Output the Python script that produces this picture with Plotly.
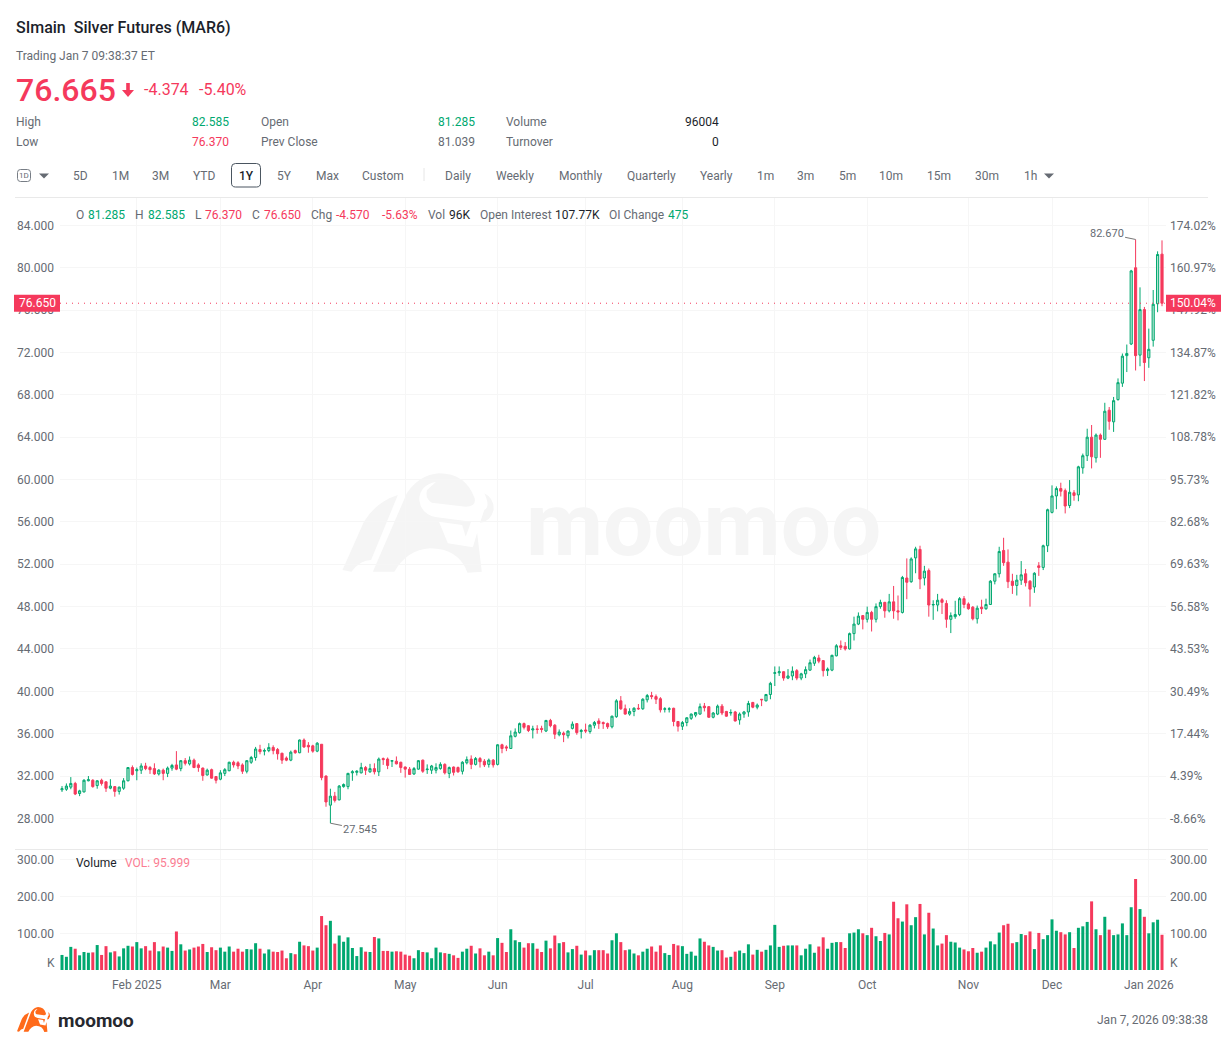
import plotly.graph_objects as go

W, H = 1225, 1046

# Daily candles
open_px = [
    30.7, 30.75, 30.95, 31.3, 30.35, 30.5, 31.55, 31.6, 31.1, 31.6,
    31.45, 30.85, 31.0, 30.55, 30.85, 31.55, 32.8, 32.5, 32.55, 32.95,
    32.8, 32.7, 32.2, 32.55, 32.25, 32.75, 33.05, 32.7, 33.45, 33.15,
    33.5, 33.05, 32.75, 32.1, 32.6, 31.95, 31.7, 32.25, 32.5, 33.3,
    33.25, 33.05, 32.45, 33.3, 33.75, 34.5, 34.35, 34.4, 34.7, 34.5,
    34.15, 33.7, 33.5, 34.4, 34.2, 35.4, 34.9, 34.85, 34.35, 35.0,
    32.0, 29.25, 30.1, 29.75, 31.0, 31.0, 32.3, 32.35, 32.3, 32.8,
    32.4, 32.7, 32.4, 33.65, 33.6, 33.4, 33.4, 33.3, 32.85, 32.65,
    32.2, 32.65, 33.5, 32.6, 32.55, 32.55, 32.7, 33.1, 32.25, 32.85,
    32.8, 32.45, 33.25, 33.6, 33.1, 33.65, 33.4, 33.1, 33.5, 33.1,
    34.95, 34.75, 34.6, 35.75, 36.1, 36.95, 36.75, 36.35, 36.45, 36.5,
    36.25, 37.25, 36.8, 35.9, 36.05, 35.8, 36.5, 36.95, 36.2, 36.35,
    36.2, 36.8, 37.2, 37.05, 36.95, 36.65, 37.6, 39.1, 38.35, 37.85,
    38.1, 38.4, 38.35, 39.2, 39.6, 39.5, 39.3, 38.3, 38.3, 38.4,
    37.15, 36.7, 37.05, 37.45, 37.75, 37.85, 38.6, 38.55, 37.55, 37.85,
    38.6, 38.1, 37.95, 38.05, 37.3, 37.85, 38.05, 38.95, 38.5, 39.25,
    39.1, 39.7, 41.7, 41.75, 41.85, 41.25, 41.45, 41.95, 41.25, 41.65,
    42.0, 42.65, 43.15, 42.9, 41.95, 42.0, 43.35, 44.3, 44.25, 44.0,
    45.45, 46.35, 47.15, 46.8, 47.45, 46.8, 48.0, 48.4, 47.6, 48.45,
    47.6, 47.45, 50.7, 50.35, 52.6, 53.4, 50.7, 51.4, 48.15, 48.15,
    48.65, 48.3, 46.8, 47.05, 47.25, 48.75, 48.25, 47.95, 46.85, 47.95,
    47.8, 48.2, 50.4, 51.1, 53.3, 52.2, 50.4, 50.0, 50.5, 51.1,
    50.4, 49.85, 51.85, 51.7, 53.75, 56.9, 58.45, 59.15, 58.95, 57.55,
    58.75, 58.55, 61.1, 62.25, 64.0, 62.05, 64.2, 63.8, 66.55, 65.45,
    67.55, 69.1, 71.7, 72.8, 80.0, 71.75, 76.05, 71.5, 73.15, 76.6, 81.285,
]
close_px = [
    30.8, 31.05, 31.3, 30.3, 30.6, 31.6, 31.65, 31.0, 31.55, 31.3,
    30.85, 31.05, 30.55, 30.95, 31.55, 32.8, 32.15, 32.6, 32.95, 32.7,
    32.6, 32.2, 32.55, 32.25, 32.75, 33.0, 32.65, 33.45, 33.2, 33.5,
    32.8, 32.8, 32.05, 32.55, 31.8, 31.6, 32.3, 32.6, 33.3, 33.05,
    32.95, 32.45, 33.45, 33.75, 34.55, 34.3, 34.4, 34.7, 34.4, 34.1,
    33.5, 33.5, 34.25, 34.2, 35.4, 34.75, 34.75, 34.35, 35.1, 31.85,
    29.55, 30.1, 29.7, 31.05, 31.2, 32.25, 32.4, 32.45, 32.8, 32.55,
    32.7, 32.4, 33.6, 33.55, 33.0, 33.45, 33.15, 32.8, 32.65, 32.15,
    32.7, 33.45, 32.45, 32.65, 32.95, 32.8, 33.1, 32.3, 32.8, 32.35,
    32.4, 33.3, 33.55, 33.1, 33.65, 33.35, 33.05, 33.5, 33.05, 34.95,
    34.6, 34.65, 35.8, 36.15, 36.95, 36.6, 36.3, 36.45, 36.4, 36.4,
    37.25, 36.75, 35.95, 36.15, 35.9, 36.25, 36.9, 36.1, 36.3, 36.25,
    36.8, 37.05, 36.95, 36.95, 36.65, 37.65, 39.1, 38.35, 37.85, 38.1,
    38.4, 38.35, 39.25, 39.6, 39.5, 39.25, 38.25, 38.35, 38.35, 37.15,
    36.7, 37.05, 37.5, 37.85, 38.0, 38.55, 38.45, 37.55, 37.95, 38.6,
    37.95, 37.65, 38.0, 37.2, 37.85, 38.05, 38.85, 38.5, 38.7, 39.2,
    39.7, 40.75, 41.75, 41.85, 41.25, 41.45, 41.9, 41.25, 41.65, 42.05,
    42.7, 43.2, 42.85, 41.95, 42.1, 43.4, 44.3, 44.15, 44.0, 45.45,
    46.35, 47.1, 46.8, 47.45, 46.8, 48.0, 48.4, 47.6, 48.45, 47.6,
    47.5, 50.75, 50.3, 52.5, 53.45, 50.6, 51.35, 48.15, 48.2, 48.6,
    48.4, 46.8, 47.15, 47.25, 48.75, 48.2, 47.8, 46.85, 47.85, 47.8,
    48.2, 50.4, 51.1, 53.2, 52.15, 50.35, 50.0, 50.5, 51.0, 50.25,
    49.65, 51.15, 51.7, 53.75, 57.15, 58.45, 59.15, 58.9, 57.5, 58.8,
    58.5, 61.2, 62.25, 64.0, 62.15, 64.2, 63.8, 66.45, 65.5, 67.45,
    69.15, 71.65, 71.9, 79.7, 71.7, 76.05, 71.05, 72.3, 76.55, 81.25, 76.65,
]
high_px = [
    31.05, 31.3, 31.9, 31.45, 30.7, 31.7, 32.0, 31.7, 31.6, 31.75,
    31.5, 31.7, 31.05, 31.0, 31.8, 32.85, 33.0, 32.8, 33.2, 33.25,
    32.95, 33.2, 32.65, 32.7, 32.9, 33.15, 34.35, 33.5, 33.7, 33.85,
    33.65, 33.2, 32.8, 32.7, 32.7, 32.0, 32.55, 32.75, 33.35, 33.45,
    33.4, 33.2, 33.5, 33.9, 34.75, 34.95, 34.6, 35.1, 34.9, 34.65,
    34.2, 33.85, 34.4, 34.5, 35.45, 35.55, 35.2, 34.95, 35.2, 35.0,
    32.05, 30.8, 30.5, 31.15, 31.3, 32.3, 32.55, 32.55, 33.25, 32.95,
    33.15, 33.2, 33.75, 33.75, 33.75, 33.5, 33.85, 33.35, 32.9, 32.85,
    32.85, 33.5, 33.55, 33.1, 33.05, 33.2, 33.3, 33.2, 32.9, 32.9,
    32.9, 33.4, 33.85, 33.95, 33.8, 33.8, 33.6, 33.65, 33.6, 35.0,
    35.05, 34.9, 36.3, 36.5, 37.05, 37.05, 36.8, 36.75, 36.8, 36.75,
    37.3, 37.4, 36.9, 36.4, 36.2, 36.3, 37.15, 37.0, 36.45, 36.95,
    36.9, 37.2, 37.45, 37.15, 37.05, 37.7, 39.25, 39.55, 38.75, 38.4,
    38.5, 38.8, 39.35, 39.75, 39.95, 39.7, 39.45, 38.5, 38.5, 38.45,
    37.2, 37.2, 37.55, 37.9, 38.05, 38.85, 38.9, 38.6, 38.05, 38.75,
    38.8, 38.15, 38.3, 38.15, 38.0, 38.15, 39.1, 39.0, 38.85, 39.25,
    39.75, 40.9, 42.35, 42.35, 41.9, 42.1, 42.35, 42.1, 41.75, 42.35,
    43.0, 43.35, 43.45, 42.95, 42.25, 43.45, 44.45, 44.8, 44.65, 45.55,
    47.05, 47.45, 47.2, 48.0, 47.6, 48.3, 48.65, 48.45, 49.2, 49.95,
    49.05, 50.9, 52.55, 52.65, 53.65, 53.75, 51.85, 51.6, 48.6, 49.2,
    48.8, 48.6, 47.45, 48.55, 48.9, 49.0, 48.4, 48.05, 48.1, 48.65,
    48.75, 50.5, 51.15, 53.65, 54.5, 53.4, 51.1, 51.0, 52.3, 51.55,
    50.5, 51.25, 52.2, 53.85, 57.25, 59.45, 59.35, 59.7, 59.15, 59.95,
    59.0, 61.3, 62.45, 64.8, 65.15, 64.35, 64.35, 67.25, 66.85, 67.8,
    69.55, 71.9, 72.75, 79.8, 82.67, 78.15, 76.3, 74.25, 77.9, 81.55, 82.585,
]
low_px = [
    30.5, 30.6, 30.75, 30.2, 30.1, 30.45, 31.5, 30.9, 30.8, 31.1,
    30.5, 30.75, 30.05, 30.25, 30.7, 31.5, 32.05, 31.6, 32.2, 32.55,
    32.2, 32.1, 32.05, 31.6, 31.9, 32.5, 32.55, 32.45, 33.0, 33.0,
    32.75, 32.4, 31.55, 32.05, 31.75, 31.3, 31.6, 32.0, 32.45, 32.8,
    32.65, 32.2, 32.25, 33.15, 33.45, 34.05, 33.95, 34.25, 34.05, 33.55,
    33.15, 33.4, 33.4, 34.1, 34.15, 34.65, 34.2, 34.2, 34.25, 31.6,
    29.1, 27.545, 29.5, 29.7, 30.9, 30.75, 31.55, 32.05, 32.25, 32.1,
    32.3, 32.15, 32.0, 33.05, 32.65, 32.85, 33.1, 32.3, 31.85, 32.1,
    32.1, 32.6, 32.3, 32.2, 32.2, 32.25, 32.6, 32.15, 31.8, 32.05,
    32.3, 32.15, 33.1, 32.65, 33.0, 32.8, 32.85, 32.8, 32.8, 33.0,
    34.15, 34.35, 34.55, 35.65, 36.0, 36.4, 36.15, 35.55, 36.0, 36.1,
    36.15, 36.6, 35.5, 35.75, 35.2, 35.55, 36.4, 35.9, 35.55, 36.05,
    36.0, 36.5, 36.45, 36.45, 36.45, 36.5, 37.5, 38.25, 37.8, 37.7,
    37.65, 38.25, 38.25, 38.95, 39.25, 38.8, 38.0, 38.0, 38.0, 36.7,
    36.2, 36.35, 36.7, 37.3, 37.55, 37.8, 38.1, 37.5, 37.45, 37.75,
    37.75, 37.6, 37.7, 37.15, 36.85, 37.5, 37.6, 38.4, 38.3, 38.6,
    39.05, 39.25, 40.5, 41.45, 41.0, 41.15, 41.05, 41.05, 41.05, 41.25,
    41.95, 42.4, 42.65, 41.4, 41.45, 41.9, 43.3, 43.9, 43.85, 43.95,
    44.8, 46.25, 45.85, 46.5, 45.65, 46.5, 47.8, 46.95, 47.45, 46.85,
    46.7, 47.35, 48.7, 50.25, 51.15, 49.65, 50.0, 47.05, 46.75, 47.55,
    47.3, 46.0, 45.5, 46.85, 47.1, 47.85, 47.7, 46.7, 46.4, 47.3,
    47.7, 48.15, 50.1, 50.75, 51.85, 49.75, 49.2, 49.05, 50.05, 49.9,
    48.0, 49.3, 50.9, 51.45, 53.15, 56.8, 57.2, 58.4, 56.8, 57.3,
    58.0, 57.95, 60.55, 61.75, 61.05, 61.6, 62.05, 63.75, 64.7, 64.5,
    67.45, 68.75, 70.15, 72.7, 70.3, 70.7, 69.3, 70.55, 72.55, 75.8, 76.37,
]
volume = [
    41, 36, 63, 58, 40, 49, 47, 48, 68, 41,
    65, 48, 51, 37, 59, 66, 64, 76, 59, 65,
    53, 76, 51, 64, 61, 52, 105, 70, 53, 56,
    61, 64, 71, 49, 62, 54, 61, 50, 64, 50,
    58, 50, 57, 56, 73, 58, 45, 56, 50, 49,
    53, 32, 46, 43, 77, 67, 65, 53, 61, 147,
    122, 134, 72, 94, 77, 89, 60, 38, 62, 50,
    49, 90, 86, 52, 52, 50, 51, 50, 42, 39,
    32, 54, 49, 48, 32, 61, 48, 46, 44, 40,
    33, 50, 58, 66, 45, 59, 40, 50, 40, 87,
    74, 49, 111, 81, 76, 61, 73, 73, 58, 49,
    80, 59, 94, 73, 76, 48, 57, 66, 42, 53,
    40, 54, 54, 54, 45, 81, 100, 76, 54, 56,
    45, 40, 50, 58, 64, 50, 67, 46, 41, 71,
    67, 65, 44, 50, 39, 86, 77, 67, 63, 53,
    54, 34, 36, 50, 53, 46, 70, 42, 55, 50,
    55, 67, 123, 63, 66, 67, 67, 67, 40, 58,
    70, 47, 64, 89, 58, 74, 76, 76, 60, 100,
    102, 111, 100, 95, 115, 92, 79, 101, 97, 186,
    141, 132, 179, 122, 144, 180, 97, 156, 113, 67,
    72, 95, 77, 75, 61, 56, 51, 60, 47, 50,
    61, 78, 70, 102, 122, 126, 73, 76, 98, 95,
    105, 57, 101, 84, 95, 138, 107, 103, 97, 103,
    60, 115, 119, 131, 187, 111, 95, 145, 110, 95,
    97, 127, 95, 171, 248, 166, 145, 100, 130, 137, 96,
]

month_index = [17, 36, 57, 78, 99, 119, 141, 162, 183, 206, 225, 247]
month_labels = ["Feb 2025", "Mar", "Apr", "May", "Jun", "Jul", "Aug", "Sep", "Oct", "Nov", "Dec", "Jan 2026"]

price_ticks = [84, 80, 76, 72, 68, 64, 60, 56, 52, 48, 44, 40, 36, 32, 28]
price_labels = ["84.000", "80.000", "76.000", "72.000", "68.000", "64.000", "60.000", "56.000",
                "52.000", "48.000", "44.000", "40.000", "36.000", "32.000", "28.000"]
pct_labels = ["174.02%", "160.97%", "147.92%", "134.87%", "121.82%", "108.78%", "95.73%", "82.68%",
              "69.63%", "56.58%", "43.53%", "30.49%", "17.44%", "4.39%", "-8.66%"]
volume_ticks = [100, 200, 300]
volume_labels = ["100.00", "200.00", "300.00"]

last_close = 76.65
last_pct = "150.04%"

GREEN = "#00a870"
GREEN_FILL = "#b5e5d2"
RED = "#f5395c"
PINK = "#fb7d92"
DARK = "#1c1f2b"
GREY = "#666b73"
GRID = "#f6f6f6"
FONT = "Roboto"

# where the panes sit on the page, in pixels
LEFT, RIGHT = 60, 1166
MAIN_TOP, MAIN_BOTTOM = 198, 849
VOL_TOP, VOL_BOTTOM = 850, 970
Y84, PX_PER_UNIT = 225.4, 10.589


def fx(x):
    return x / W


def fy(y):
    return 1 - y / H


def price_at(y):
    return 84 - (y - Y84) / PX_PER_UNIT


bar_index = list(range(len(close_px)))
vol_colors = [GREEN if c >= o else RED for o, c in zip(open_px, close_px)]

fig = go.Figure()

fig.add_trace(go.Candlestick(
    x=bar_index, open=open_px, high=high_px, low=low_px, close=close_px,
    increasing=dict(line=dict(color=GREEN, width=1), fillcolor=GREEN_FILL),
    decreasing=dict(line=dict(color=RED, width=1), fillcolor=RED),
    whiskerwidth=0, xaxis="x", yaxis="y", showlegend=False,
))
# invisible copy so the right hand percent axis gets drawn
fig.add_trace(go.Scatter(x=bar_index, y=close_px, mode="lines", line=dict(width=0), opacity=0,
                         xaxis="x", yaxis="y2", hoverinfo="skip", showlegend=False))
fig.add_trace(go.Bar(x=bar_index, y=volume, marker=dict(color=vol_colors, line=dict(width=0)), width=0.68,
                     xaxis="x2", yaxis="y3", showlegend=False))
fig.add_trace(go.Scatter(x=bar_index, y=volume, mode="lines", line=dict(width=0), opacity=0,
                         xaxis="x2", yaxis="y4", hoverinfo="skip", showlegend=False))

annotations = []
shapes = []


def label(x, y, text, size=12, color=GREY, anchor="left", weight=None, family=FONT):
    font = dict(family=family, size=size, color=color)
    if weight:
        font["weight"] = weight
    annotations.append(dict(xref="paper", yref="paper", x=fx(x), y=fy(y), text=text, showarrow=False,
                            xanchor=anchor, yanchor="middle", font=font, borderpad=0, borderwidth=0))


def pixel_shape(path, fill=None, line=None, layer="above", width=1):
    shapes.append(dict(type="path", xref="paper", yref="paper", path=path, fillcolor=fill,
                       line=dict(color=line, width=width if line else 0), layer=layer))


def pixel_path(points):
    # points: list of (command, x, y, ...) in page pixels
    parts = []
    for p in points:
        coords = []
        for i, v in enumerate(p[1:]):
            coords.append(f"{fx(v):.5f}" if i % 2 == 0 else f"{fy(v):.5f}")
        parts.append(p[0] + " " + " ".join(coords))
    return " ".join(parts) + " Z"


def round_box(x0, y0, x1, y1, r):
    return pixel_path([
        ("M", x0 + r, y0), ("L", x1 - r, y0), ("Q", x1, y0, x1, y0 + r), ("L", x1, y1 - r),
        ("Q", x1, y1, x1 - r, y1), ("L", x0 + r, y1), ("Q", x0, y1, x0, y1 - r), ("L", x0, y0 + r),
        ("Q", x0, y0, x0 + r, y0),
    ])


LOGO_WING = [("M", 35, 330), ("L", 95, 185), ("Q", 130, 125, 190, 105), ("L", 115, 300),
             ("Q", 85, 300, 60, 335)]
LOGO_BODY = [("M", 120, 335), ("L", 215, 100), ("Q", 250, 45, 305, 40), ("Q", 380, 40, 405, 115),
             ("Q", 410, 140, 380, 140), ("L", 285, 128), ("Q", 265, 115, 272, 90), ("L", 297, 65),
             ("Q", 250, 75, 250, 120), ("Q", 255, 165, 300, 172), ("L", 395, 185), ("L", 380, 230),
             ("L", 370, 195), ("L", 305, 185), ("L", 330, 250), ("L", 400, 262), ("L", 412, 218),
             ("L", 425, 335), ("L", 385, 338), ("Q", 360, 265, 280, 265), ("Q", 215, 270, 180, 335)]
LOGO_HOOK = [("M", 432, 100), ("Q", 460, 115, 458, 150), ("Q", 450, 185, 420, 188), ("L", 432, 150),
             ("Q", 450, 140, 432, 100)]


def draw_logo(ox, oy, sx, sy, color, layer):
    for part in (LOGO_WING, LOGO_BODY, LOGO_HOOK):
        pts = []
        for p in part:
            vals = []
            for i, v in enumerate(p[1:]):
                vals.append(ox + v * sx if i % 2 == 0 else oy + v * sy)
            pts.append((p[0], *vals))
        pixel_shape(pixel_path(pts), fill=color, layer=layer)


# watermark
draw_logo(330, 460, 1 / 2.8, 1 / 3, "#f5f5f5", "below")
label(703.5, 524, "moomoo", size=89, color="#f5f5f5", anchor="center", weight=700)

# header
label(16, 27.7, "SImain\u00a0\u00a0Silver Futures (MAR6)", size=16, color=DARK, weight=500)
label(16, 56, "Trading Jan 7 09:38:37 ET", color=GREY)
label(16, 90, "76.665", size=32, color=RED, weight=500)
pixel_shape(pixel_path([("M", 126.2, 83), ("L", 129.8, 83), ("L", 129.8, 90), ("L", 134, 90),
                        ("L", 128, 97), ("L", 122, 90), ("L", 126.2, 90)]), fill=RED)
label(144, 89.5, "-4.374", size=16, color=RED)
label(199, 89.5, "-5.40%", size=16, color=RED)

stat_rows = [
    (122, "High", "82.585", GREEN, "Open", "81.285", GREEN, "Volume", "96004", DARK),
    (142, "Low", "76.370", RED, "Prev Close", "81.039", GREY, "Turnover", "0", DARK),
]
for y, a, av, ac, b, bv, bc, c, cv, cc in stat_rows:
    label(16, y, a)
    label(229, y, av, color=ac, anchor="right")
    label(261, y, b)
    label(475, y, bv, color=bc, anchor="right")
    label(506, y, c)
    label(719, y, cv, color=cc, anchor="right")

# toolbar
toolbar = [("5D", 80), ("1M", 120), ("3M", 160), ("YTD", 204), ("5Y", 284), ("Max", 327), ("Custom", 383),
           ("Daily", 458), ("Weekly", 515), ("Monthly", 580), ("Quarterly", 651), ("Yearly", 716),
           ("1m", 765), ("3m", 805), ("5m", 847), ("10m", 891), ("15m", 939), ("30m", 987), ("1h", 1030)]
for text, x in toolbar:
    label(x, 176, text, anchor="center")
pixel_shape(round_box(231.5, 163.5, 260.5, 187, 4), line="#4a5560")
label(246, 176, "1Y", color=DARK, anchor="center", weight=500)
pixel_shape(round_box(17.5, 169.5, 30.5, 181.5, 3), line="#777d85")
label(24, 175.5, "1D", size=8, color=GREY, anchor="center")
pixel_shape(pixel_path([("M", 39, 173.5), ("L", 49, 173.5), ("L", 44, 178.5)]), fill="#666b73")
pixel_shape(pixel_path([("M", 1044, 173.5), ("L", 1054, 173.5), ("L", 1049, 178.5)]), fill="#666b73")
shapes.append(dict(type="line", xref="paper", yref="paper", x0=fx(424), x1=fx(424), y0=fy(168), y1=fy(181),
                   line=dict(color="#e6e6e6", width=1)))

# separators
for y in (197.5, 849.5):
    shapes.append(dict(type="line", xref="paper", yref="paper", x0=fx(15), x1=fx(1208), y0=fy(y), y1=fy(y),
                       line=dict(color="#e9e9e9", width=1)))

# OHLC legend row
legend_row = [
    ("O", 76, GREY), ("81.285", 88, GREEN), ("H", 135, GREY), ("82.585", 148, GREEN), ("L", 195, GREY),
    ("76.370", 205, RED), ("C", 252, GREY), ("76.650", 264, RED), ("Chg", 311, GREY), ("-4.570", 336, RED),
    ("-5.63%", 382, RED), ("Vol", 428, GREY), ("96K", 449, DARK), ("Open Interest", 480, GREY),
    ("107.77K", 555, DARK), ("OI Change", 609, GREY), ("475", 668, GREEN),
]
for text, x, color in legend_row:
    label(x, 215, text, color=color)
label(76, 862.7, "Volume", color=DARK)
label(125, 862.7, "VOL: 95.999", color=PINK)

# last price line and the two tags
shapes.append(dict(type="line", xref="paper", yref="y", x0=fx(LEFT), x1=fx(RIGHT), y0=last_close, y1=last_close,
                   line=dict(color=RED, width=1, dash="1px,5px")))
tag_y = Y84 + (84 - last_close) * PX_PER_UNIT
for x0, x1 in ((14, LEFT), (RIGHT, 1221)):
    shapes.append(dict(type="rect", xref="paper", yref="paper", x0=fx(x0), x1=fx(x1), y0=fy(tag_y - 8.5),
                       y1=fy(tag_y + 8.5), fillcolor=RED, line=dict(width=0)))
label(37, tag_y, f"{last_close:.3f}", color="white", anchor="center")
label(1170, tag_y, last_pct, color="white")

# high and low callouts
hi_i = high_px.index(max(high_px[:250]))
lo_i = low_px.index(min(low_px))
annotations.append(dict(x=hi_i, y=high_px[hi_i], xref="x", yref="y", text=f"{high_px[hi_i]:.3f}", showarrow=True,
                        arrowhead=0, arrowwidth=1, arrowcolor="#777", ax=-29, ay=-6, standoff=0,
                        font=dict(family=FONT, size=11, color=GREY)))
annotations.append(dict(x=lo_i, y=low_px[lo_i], xref="x", yref="y", text=f"{low_px[lo_i]:.3f}", showarrow=True,
                        arrowhead=0, arrowwidth=1, arrowcolor="#777", ax=30, ay=6, standoff=0,
                        font=dict(family=FONT, size=11, color=GREY)))

# volume axis unit, footer
label(55, 963, "K", anchor="right")
label(1170, 963, "K")
draw_logo(14.3, 1003.6, 0.078, 0.084, "#ff6a1a", "above")
label(95.5, 1020, "moomoo", size=19, color="#26282e", anchor="center", weight=700)
label(1208, 1020, "Jan 7, 2026 09:38:38", anchor="right")

tick_font = dict(family=FONT, size=12, color=GREY)
x_range = [(LEFT - 62) / 4.4, (RIGHT - 62) / 4.4]
main_range = [price_at(MAIN_BOTTOM), price_at(MAIN_TOP)]
vol_range = [0, (VOL_BOTTOM - VOL_TOP) / 0.367]

fig.update_layout(
    width=W, height=H, autosize=False,
    margin=dict(l=0, r=0, t=0, b=0, autoexpand=False),
    paper_bgcolor="white", plot_bgcolor="white",
    font=dict(family=FONT, size=12, color=GREY),
    showlegend=False, boxgap=0.3, bargap=0.3,
    annotations=annotations, shapes=shapes,
    xaxis=dict(domain=[fx(LEFT), fx(RIGHT)], range=x_range, anchor="y", rangeslider=dict(visible=False),
               tickmode="array", tickvals=month_index, ticktext=month_labels, showticklabels=False,
               showgrid=True, gridcolor=GRID, zeroline=False, showline=False, ticks=""),
    yaxis=dict(domain=[fy(MAIN_BOTTOM), fy(MAIN_TOP)], range=main_range, anchor="x", side="left",
               tickmode="array", tickvals=price_ticks, ticktext=price_labels, tickfont=tick_font,
               ticklabelstandoff=5, showgrid=True, gridcolor=GRID, zeroline=False, showline=False, ticks=""),
    yaxis2=dict(domain=[fy(MAIN_BOTTOM), fy(MAIN_TOP)], range=main_range, anchor="x", side="right", overlaying="y",
                tickmode="array", tickvals=price_ticks, ticktext=pct_labels, tickfont=tick_font,
                ticklabelstandoff=3, showgrid=False, zeroline=False, showline=False, ticks=""),
    xaxis2=dict(domain=[fx(LEFT), fx(RIGHT)], range=x_range, anchor="y3",
                tickmode="array", tickvals=month_index, ticktext=month_labels, tickfont=tick_font,
                showgrid=True, gridcolor=GRID, zeroline=False, showline=False, ticks="", ticklabelstandoff=6),
    yaxis3=dict(domain=[fy(VOL_BOTTOM), fy(VOL_TOP)], range=vol_range, anchor="x2", side="left",
                tickmode="array", tickvals=volume_ticks, ticktext=volume_labels, tickfont=tick_font,
                ticklabelstandoff=5, showgrid=True, gridcolor=GRID, zeroline=False, showline=False, ticks=""),
    yaxis4=dict(domain=[fy(VOL_BOTTOM), fy(VOL_TOP)], range=vol_range, anchor="x2", side="right", overlaying="y3",
                tickmode="array", tickvals=volume_ticks, ticktext=volume_labels, tickfont=tick_font,
                ticklabelstandoff=3, showgrid=False, zeroline=False, showline=False, ticks=""),
)

fig.write_html("out.html", config=dict(displayModeBar=False),
               post_script="document.body.style.margin='0';document.body.style.overflow='hidden';")
